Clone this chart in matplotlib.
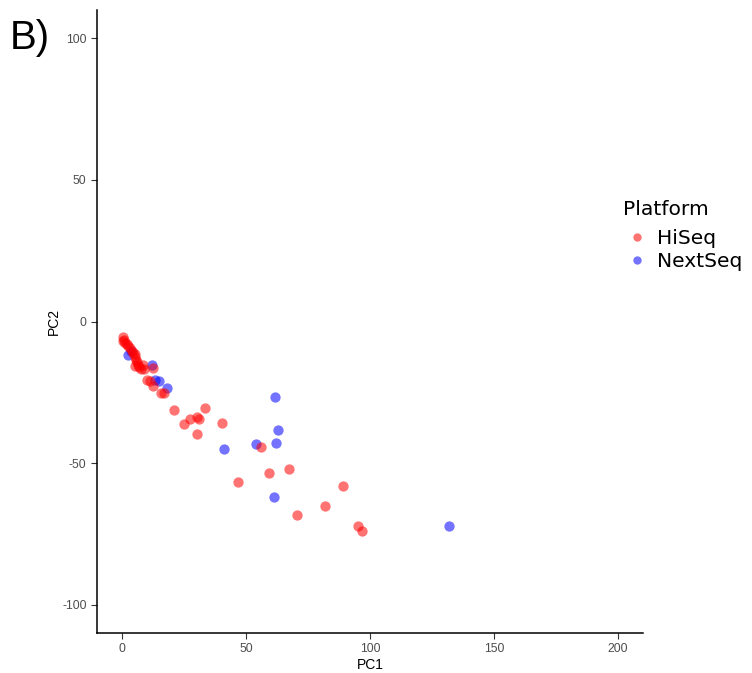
import matplotlib.pyplot as plt
from matplotlib.lines import Line2D

plt.rcParams['font.family'] = ['Liberation Sans', 'DejaVu Sans']
plt.rcParams['axes.unicode_minus'] = False

# HiSeq samples ------------
hiseq_pc1 = [0.3, 0.8, 1.2, 0.5, 2.0, 2.5, 3.2, 3.9, 4.5, 5.2, 5.5, 5.9, 6.3, 6.6, 5.2,
             7.0, 7.9, 9.0, 8.5, 12.6, 10.3, 11.2, 12.6, 15.9, 17.0,
             20.9, 33.5, 27.3, 24.9, 30.4, 31.1, 30.2, 40.4, 55.9, 59.4, 67.2, 46.9,
             89.0, 81.8, 70.4, 95.0, 96.8]
hiseq_pc2 = [-5.5, -6.5, -7.5, -7.0, -8.0, -8.7, -9.5, -10.5, -11.0, -11.6, -12.5, -13.4, -14.3, -15.2, -15.8,
             -16.0, -16.9, -16.9, -15.5, -16.3, -20.5, -21.1, -22.8, -25.2, -25.4,
             -31.1, -30.5, -34.3, -36.1, -33.6, -34.3, -39.6, -35.7, -44.4, -53.6, -52.2, -56.5,
             -58.0, -65.3, -68.2, -72.3, -74.0]

# NextSeq samples ------------
nextseq_pc1 = [2.5, 3.5, 12.2, 13.3, 15.0, 18.2, 61.8, 62.8, 62.2, 54.1, 41.2, 61.4, 131.7]
nextseq_pc2 = [-11.9, -10.5, -15.5, -20.5, -21.1, -23.4, -26.6, -38.3, -42.9, -43.3, -45.0, -61.8, -72.1]

x_ticks = [0, 50, 100, 150, 200]
y_ticks = [-100, -50, 0, 50, 100]

fig = plt.figure(figsize=(7.52, 6.73), dpi=100)
ax = fig.add_axes([0.129, 0.0594, 0.726, 0.9256])

ax.scatter(nextseq_pc1, nextseq_pc2, s=55, color="#0000FF", alpha=0.55, linewidths=0)
ax.scatter(hiseq_pc1, hiseq_pc2, s=55, color="#FF0000", alpha=0.55, linewidths=0)

ax.set_xlim(-10, 210)
ax.set_ylim(-110, 110)
ax.set_xticks(x_ticks)
ax.set_yticks(y_ticks)
ax.tick_params(colors="#333333", labelcolor="#4D4D4D", labelsize=8.8, length=4, width=0.8)
for lado in ["top", "right"]:
    ax.spines[lado].set_visible(False)
for lado in ["left", "bottom"]:
    ax.spines[lado].set_linewidth(1.1)
    ax.spines[lado].set_color("black")

ax.set_xlabel("PC1", fontsize=10, labelpad=2)
ax.set_ylabel("PC2", fontsize=10, labelpad=1)

# Legenda
handles = [
    Line2D([], [], marker="o", linestyle="", markersize=6, markerfacecolor="#FF0000",
           markeredgewidth=0, alpha=0.55, label="HiSeq"),
    Line2D([], [], marker="o", linestyle="", markersize=6, markerfacecolor="#0000FF",
           markeredgewidth=0, alpha=0.55, label="NextSeq"),
]
leg = fig.legend(handles=handles, title="Platform", loc="upper left",
                 bbox_to_anchor=(0.828, 0.703), frameon=False,
                 prop={"family": "DejaVu Sans", "size": 14.6},
                 title_fontproperties={"family": "DejaVu Sans", "size": 14.6},
                 handletextpad=0.25, handlelength=1.45,
                 labelspacing=0.22, borderaxespad=0, borderpad=0)
leg._legend_box.align = "left"
leg._legend_box.sep = 7

fig.text(0.013, 0.972, "B)", fontsize=29, va="top", ha="left")

plt.savefig("out.png", dpi=100)
